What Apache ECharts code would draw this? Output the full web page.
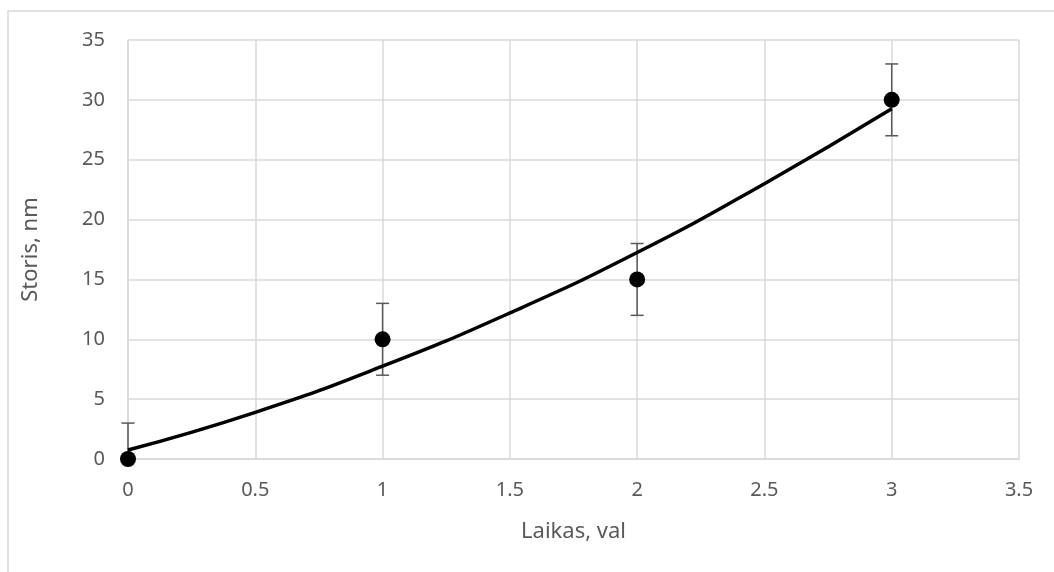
<!DOCTYPE html>
<html>
<head>
<meta charset="utf-8">
<script src="https://cdn.jsdelivr.net/npm/echarts@6/dist/echarts.min.js"></script>
<style>html,body{margin:0;padding:0;background:#fff;}#c{width:1054px;height:572px;}</style>
</head>
<body>
<div id="c"></div>
<script>
// Measured points
var xValues = [0, 1, 2, 3];
var yValues = [0, 10, 15, 30];
var errValues = [3, 3, 3, 3];
// Trendline
var trendX = [0, 0.5, 1, 1.5, 2, 2.5, 3];
var trendY = [0.75, 3.9, 7.75, 12.2, 17.25, 23.0, 29.25];
var xTicks = { min: 0, max: 3.5, interval: 0.5 };
var yTicks = { min: 0, max: 35, interval: 5 };

var font = '"Noto Sans", "Open Sans", sans-serif';
var chart = echarts.init(document.getElementById('c'), null, { renderer: 'canvas' });

var pts = xValues.map(function (x, i) { return [x, yValues[i], errValues[i]]; });
var trend = trendX.map(function (x, i) { return [x, trendY[i]]; });

chart.setOption({
  animation: false,
  backgroundColor: '#fff',
  graphic: [{
    type: 'rect', shape: { x: 8, y: 11, width: 1100, height: 620 },
    style: { fill: 'none', stroke: '#d9d9d9', lineWidth: 1.5 }, silent: true, z: -10
  }],
  grid: { left: 128, top: 40, right: 35, bottom: 113, containLabel: false },
  xAxis: {
    type: 'value', min: xTicks.min, max: xTicks.max, interval: xTicks.interval,
    name: 'Laikas, val', nameLocation: 'middle', nameGap: 62,
    nameTextStyle: { color: '#595959', fontSize: 22, fontFamily: font },
    axisLine: { show: true, lineStyle: { color: '#d9d9d9', width: 1.5 } },
    axisTick: { show: false },
    axisLabel: { color: '#595959', fontSize: 20, fontFamily: font, margin: 21 },
    splitLine: { show: true, lineStyle: { color: '#d9d9d9', width: 1.5 } }
  },
  yAxis: {
    type: 'value', min: yTicks.min, max: yTicks.max, interval: yTicks.interval,
    name: 'Storis, nm', nameLocation: 'middle', nameGap: 86,
    nameTextStyle: { color: '#595959', fontSize: 22, fontFamily: font },
    axisLine: { show: true, lineStyle: { color: '#d9d9d9', width: 1.5 } },
    axisTick: { show: false },
    axisLabel: { color: '#595959', fontSize: 20, fontFamily: font, margin: 23 },
    splitLine: { show: true, lineStyle: { color: '#d9d9d9', width: 1.5 } }
  },
  series: [
    {
      type: 'custom', z: 2, clip: false,
      data: pts,
      renderItem: function (params, api) {
        var x = api.value(0), y = api.value(1), e = api.value(2);
        var top = api.coord([x, y + e]);
        var bot = api.coord([x, y - e]);
        var cs = params.coordSys;
        var yMin = cs.y, yMax = cs.y + cs.height;
        var cap = 6.5;
        var children = [];
        var t = Math.max(top[1], yMin), b = Math.min(bot[1], yMax);
        children.push({ type: 'line', shape: { x1: top[0], y1: t, x2: top[0], y2: b }, style: { stroke: '#595959', lineWidth: 1.5 } });
        if (top[1] >= yMin) children.push({ type: 'line', shape: { x1: top[0] - cap, y1: top[1], x2: top[0] + cap, y2: top[1] }, style: { stroke: '#595959', lineWidth: 1.5 } });
        if (bot[1] <= yMax) children.push({ type: 'line', shape: { x1: bot[0] - cap, y1: bot[1], x2: bot[0] + cap, y2: bot[1] }, style: { stroke: '#595959', lineWidth: 1.5 } });
        return { type: 'group', children: children };
      }
    },
    {
      type: 'line', z: 3, data: trend, smooth: 0.5, showSymbol: false, symbol: 'none',
      lineStyle: { color: '#000', width: 3.5 }
    },
    {
      type: 'scatter', z: 4, clip: false, data: pts.map(function (p) { return [p[0], p[1]]; }),
      symbol: 'circle', symbolSize: 16, itemStyle: { color: '#000', opacity: 1 }
    }
  ]
});
</script>
</body>
</html>
